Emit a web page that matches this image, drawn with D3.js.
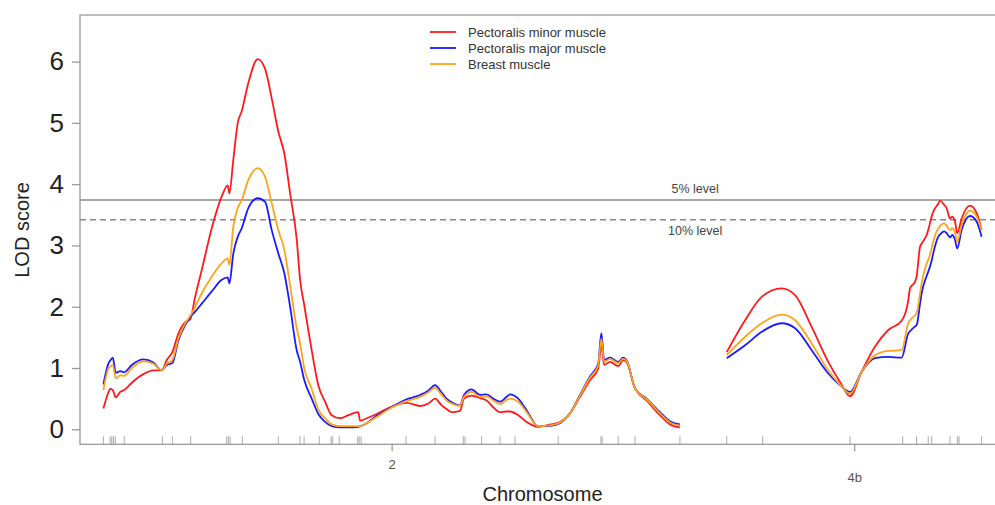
<!DOCTYPE html>
<html>
<head>
<meta charset="utf-8">
<script src="https://cdn.jsdelivr.net/npm/d3@7"></script>
<style>
  body { margin: 0; background: #fff; }
  svg { display: block; font-family: "Liberation Sans", Arial, sans-serif; }
</style>
</head>
<body>
<svg width="995" height="505"></svg>
<script>
// chromosomes, positions in cM
const chrNames = ["2", "4b"];
const chrLengths = [288.4, 127.5];
const chrGap = 23.4;

const pos2 = [0, 2.5, 3.4, 4.7, 6.2, 8.4, 10.4, 14.2, 20, 25, 29.2, 31.7, 34.5, 37.5, 40.9, 43.4, 45.9,
  49.2, 54.2, 59.2, 62.2, 63, 65, 67.2, 69.2, 72.5, 77.2, 80.9, 84.2, 87.5, 90.5, 93.4, 96.7, 98.4,
  100.5, 104.2, 107.5, 110.9, 114.2, 118.4, 122.5, 127.5, 128.4, 131.7, 136.7, 143.4, 151.7, 158.4,
  162.5, 165.9, 169.2, 171.7, 174.2, 178.4, 180.4, 184.2, 188.4, 191.7, 195, 198.4, 201.7, 203.4,
  207.5, 211.7, 217.5, 222.5, 228.4, 233.4, 238.4, 243.4, 247.5, 249.1, 250.5, 253.4, 257.5, 260,
  261.7, 265.9, 271.7, 278.4, 283.4, 288.4];
const minor2 = [0.34, 0.6, 0.66, 0.64, 0.52, 0.61, 0.64, 0.76, 0.9, 0.96, 0.96, 1.13, 1.26, 1.56, 1.75, 1.79, 2.16,
  2.6, 3.28, 3.8, 3.98, 3.85, 4.4, 5.0, 5.19, 5.65, 6.04, 5.88, 5.4, 4.86, 4.5, 3.85, 3.1, 2.44,
  2.02, 1.29, 0.72, 0.45, 0.23, 0.18, 0.23, 0.28, 0.14, 0.18, 0.25, 0.36, 0.43, 0.38,
  0.42, 0.5, 0.39, 0.33, 0.28, 0.3, 0.5, 0.55, 0.51, 0.47, 0.36, 0.28, 0.29, 0.29,
  0.23, 0.12, 0.04, 0.07, 0.12, 0.26, 0.53, 0.8, 0.99, 1.37, 1.05, 1.1, 1.03, 1.13,
  1.1, 0.67, 0.47, 0.23, 0.08, 0.03];
const major2 = [0.73, 1.07, 1.12, 1.17, 0.92, 0.95, 0.93, 1.05, 1.14, 1.09, 0.96, 1.05, 1.08, 1.45, 1.7, 1.83, 1.92,
  2.05, 2.25, 2.44, 2.48, 2.38, 2.87, 3.14, 3.28, 3.61, 3.77, 3.71, 3.25, 2.87, 2.55, 2.0, 1.29, 1.1,
  0.8, 0.5, 0.25, 0.12, 0.05, 0.03, 0.03, 0.04, 0.05, 0.1, 0.22, 0.35, 0.49, 0.56,
  0.63, 0.72, 0.6, 0.5, 0.44, 0.39, 0.56, 0.65, 0.56, 0.57, 0.5, 0.45, 0.53, 0.57,
  0.5, 0.31, 0.05, 0.05, 0.1, 0.26, 0.56, 0.86, 1.07, 1.57, 1.13, 1.17, 1.1, 1.17,
  1.13, 0.67, 0.5, 0.28, 0.13, 0.08];
const breast2 = [0.64, 0.99, 1.02, 1.05, 0.83, 0.88, 0.87, 1.0, 1.11, 1.07, 0.96, 1.07, 1.13, 1.48, 1.73, 1.85, 2.0,
  2.22, 2.49, 2.71, 2.79, 2.68, 3.31, 3.61, 3.74, 4.07, 4.26, 4.12, 3.69, 3.25, 2.93, 2.35, 1.65, 1.4,
  0.99, 0.66, 0.32, 0.18, 0.08, 0.05, 0.05, 0.05, 0.05, 0.1, 0.2, 0.34, 0.46, 0.53,
  0.6, 0.68, 0.56, 0.47, 0.42, 0.38, 0.53, 0.61, 0.53, 0.54, 0.47, 0.41, 0.48, 0.5,
  0.45, 0.28, 0.05, 0.06, 0.11, 0.26, 0.55, 0.84, 1.04, 1.48, 1.1, 1.15, 1.08, 1.15,
  1.12, 0.67, 0.49, 0.26, 0.11, 0.06];

const pos4b = [0, 9.2, 17.5, 27.5, 34.2, 42.5, 50.8, 56.7, 61.7, 67.5, 74.2, 80.8, 87.5, 90.8, 91.7,
  94.2, 95, 96.7, 97.5, 100, 100.8, 102.5, 103.3, 105.8, 106.7, 108.8, 110, 111.7, 112.8, 114.2,
  115.3, 117.5, 121.7, 125, 127.5];
const minor4b = [1.26, 1.78, 2.16, 2.3, 2.19, 1.67, 1.1, 0.77, 0.54, 0.94, 1.35, 1.62, 1.77, 2.1, 2.3,
  2.41, 2.5, 2.98, 3.03, 3.17, 3.25, 3.47, 3.55, 3.68, 3.73, 3.66, 3.61, 3.44, 3.47, 3.39,
  3.2, 3.44, 3.65, 3.53, 3.25];
const major4b = [1.16, 1.37, 1.59, 1.73, 1.65, 1.29, 0.91, 0.72, 0.61, 0.94, 1.16, 1.18, 1.17, 1.56, 1.6,
  1.68, 1.7, 2.05, 2.22, 2.5, 2.57, 2.75, 2.87, 3.14, 3.18, 3.23, 3.2, 3.13, 3.17, 3.09,
  2.95, 3.25, 3.48, 3.39, 3.14];
const breast4b = [1.21, 1.51, 1.73, 1.87, 1.78, 1.4, 0.96, 0.73, 0.58, 0.94, 1.21, 1.28, 1.29, 1.73, 1.78,
  1.86, 1.89, 2.22, 2.38, 2.7, 2.76, 2.95, 3.06, 3.28, 3.32, 3.36, 3.32, 3.25, 3.28, 3.21,
  3.06, 3.33, 3.57, 3.47, 3.25];

const markers2 = [0, 3.4, 4.2, 5.0, 5.9, 10.4, 29.5, 34.5, 43.7, 61.7, 62.5, 63.4, 69.5, 87.5, 98.4,
  100.4, 108.0, 113.9, 114.7, 118.0, 127.2, 128.0, 128.9, 151.4, 165.9, 180.0, 180.9, 189.2, 198.4,
  205.9, 227.5, 248.9, 249.5, 257.5, 265.9, 288.4];
const markers4b = [0, 18.0, 61.7, 88.0, 95.0, 100.8, 102.5, 111.7, 115.5, 116.2, 127.5];

const seriesNames = ["Pectoralis minor muscle", "Pectoralis major muscle", "Breast muscle"];
const seriesColors = ["#ff1a1a", "#1a1aff", "#ffa31a"];
const thresholds = [3.74, 3.42];
const thresholdLabels = ["5% level", "10% level"];
const yTicks = [0, 1, 2, 3, 4, 5, 6];

const chromosomes = [
  { name: chrNames[0], len: chrLengths[0], pos: pos2, lod: [minor2, major2, breast2], markers: markers2 },
  { name: chrNames[1], len: chrLengths[1], pos: pos4b, lod: [minor4b, major4b, breast4b], markers: markers4b }
];
let off = 0;
chromosomes.forEach(c => { c.start = off; off += c.len + chrGap; });
const total = off - chrGap;

const svg = d3.select("svg");
const mLeft = 80, mTop = 15, mBottom = 444.3, mRight = 1005;

const x = d3.scaleLinear().domain([-chrGap / 2, total + chrGap / 2]).range([mLeft, mRight]);
const y = d3.scaleLinear().domain([-0.245, 6.76]).range([mBottom, mTop]);

const grey = "#999";

// frame
svg.append("rect")
  .attr("x", mLeft).attr("y", mTop)
  .attr("width", mRight - mLeft).attr("height", mBottom - mTop)
  .attr("fill", "none").attr("stroke", grey).attr("stroke-width", 1.3);

// y axis
const yAxis = svg.append("g")
  .attr("transform", `translate(${mLeft},0)`)
  .call(d3.axisLeft(y).tickValues(yTicks).tickFormat(d3.format("d")).tickSize(8).tickPadding(8));
yAxis.select(".domain").remove();
yAxis.selectAll("line").attr("stroke", grey).attr("stroke-width", 1.3);
yAxis.selectAll("text").attr("font-size", 26).attr("fill", "#222").attr("font-family", "Liberation Sans, Arial, sans-serif");

// x axis: chromosome names at midpoints
const xAxis = svg.append("g")
  .attr("transform", `translate(0,${mBottom})`)
  .call(d3.axisBottom(x)
    .tickValues(chromosomes.map(c => c.start + c.len / 2))
    .tickFormat((d, i) => chromosomes[i].name)
    .tickSize(7).tickPadding(6));
xAxis.select(".domain").remove();
xAxis.selectAll("line").attr("stroke", grey).attr("stroke-width", 1.3);
xAxis.selectAll("text").attr("font-size", 13).attr("fill", "#555")
  .attr("font-family", "Liberation Sans, Arial, sans-serif")
  .attr("dy", (d, i) => i % 2 ? "1.9em" : "0.9em");

// marker rug
chromosomes.forEach(c => {
  svg.append("g").selectAll("line")
    .data(c.markers)
    .join("line")
    .attr("x1", d => x(c.start + d)).attr("x2", d => x(c.start + d))
    .attr("y1", mBottom - 8).attr("y2", mBottom)
    .attr("stroke", "#aaa").attr("stroke-width", 1);
});

// thresholds
svg.append("g").selectAll("line")
  .data(thresholds)
  .join("line")
  .attr("x1", mLeft).attr("x2", mRight)
  .attr("y1", d => y(d)).attr("y2", d => y(d))
  .attr("stroke", "#888").attr("stroke-width", 1.5)
  .attr("stroke-dasharray", (d, i) => i ? "6,4" : null);

svg.append("g").selectAll("text")
  .data(thresholds)
  .join("text")
  .attr("x", x(296))
  .attr("y", (d, i) => y(d) + (i ? 15 : -7))
  .attr("text-anchor", "middle")
  .attr("font-size", 12.5).attr("fill", "#444")
  .text((d, i) => thresholdLabels[i]);

// LOD curves
const line = d3.line().x(d => x(d[0])).y(d => y(d[1])).curve(d3.curveMonotoneX);
seriesNames.forEach((name, s) => {
  chromosomes.forEach(c => {
    svg.append("path")
      .datum(c.pos.map((p, i) => [c.start + p, c.lod[s][i]]))
      .attr("d", line)
      .attr("fill", "none")
      .attr("stroke", seriesColors[s])
      .attr("stroke-width", 1.8)
      .attr("stroke-linejoin", "round");
  });
});

// legend
const legend = svg.append("g").attr("transform", "translate(430,32)");
const item = legend.selectAll("g")
  .data(seriesNames)
  .join("g")
  .attr("transform", (d, i) => `translate(0,${i * 16})`);
item.append("line")
  .attr("x1", 0).attr("x2", 26)
  .attr("stroke", (d, i) => seriesColors[i]).attr("stroke-width", 1.8);
item.append("text")
  .attr("x", 38).attr("y", 4.5)
  .attr("font-size", 13).attr("fill", "#333")
  .text(d => d);

// axis titles
svg.append("text")
  .attr("transform", "translate(29,230) rotate(-90)")
  .attr("text-anchor", "middle")
  .attr("font-size", 20).attr("fill", "#222")
  .text("LOD score");

svg.append("text")
  .attr("x", (mLeft + mRight) / 2).attr("y", 501)
  .attr("text-anchor", "middle")
  .attr("font-size", 20).attr("fill", "#222")
  .text("Chromosome");
</script>
</body>
</html>
